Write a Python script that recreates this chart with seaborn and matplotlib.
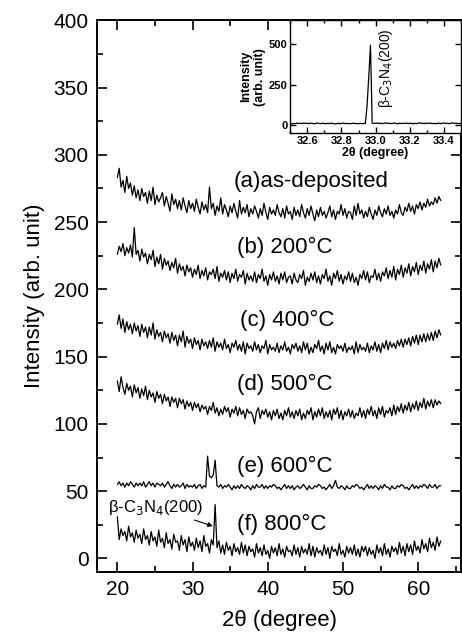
import numpy as np
import pandas as pd
import matplotlib
matplotlib.use("Agg")
import matplotlib.pyplot as plt
import seaborn as sns
from matplotlib.ticker import MultipleLocator

# scan grid, 20-63 deg in 0.25 deg steps
two_theta = np.arange(20.0, 63.001, 0.25)

as_deposited = [
    283, 290, 276, 281, 272, 284, 275, 279, 270, 277, 268, 274, 266, 275, 269, 272,
    264, 273, 266, 276, 263, 270, 265, 268, 272, 262, 269, 264, 258, 271, 263, 267,
    260, 266, 259, 268, 262, 257, 266, 260, 264, 258, 267, 261, 256, 265, 259, 263,
    257, 276, 260, 264, 255, 262, 258, 268, 256, 263, 259, 254, 262, 257, 264, 258,
    253, 266, 256, 261, 257, 263, 254, 260, 256, 262, 258, 253, 260, 255, 264, 257,
    252, 261, 256, 259, 255, 263, 257, 254, 260, 253, 262, 256, 258, 252, 261, 255,
    259, 254, 263, 257, 253, 260, 255, 262, 256, 251, 259, 254, 261, 255, 258, 253,
    257, 262, 254, 259, 252, 258, 256, 263, 255, 260, 253, 258, 257, 252, 262, 255,
    264, 256, 259, 253, 258, 254, 261, 256, 252, 259, 255, 262, 257, 254, 260, 256,
    262, 255, 258, 253, 259, 256, 263, 257, 255, 261, 258, 264, 258, 262, 256, 263,
    260, 265, 259, 264, 261, 267, 262, 265, 263, 268, 264, 269, 266,
]
t200 = [
    226, 232, 228, 234, 225, 231, 227, 233, 224, 246, 226, 229, 221, 230, 224, 227,
    219, 226, 222, 229, 217, 224, 219, 226, 215, 223, 218, 221, 214, 220, 216, 223,
    212, 219, 214, 217, 210, 218, 213, 216, 209, 215, 211, 218, 208, 214, 210, 216,
    207, 213, 211, 215, 208, 217, 206, 212, 209, 214, 207, 213, 205, 212, 208, 215,
    206, 211, 209, 214, 204, 212, 207, 210, 206, 213, 205, 211, 208, 215, 206, 210,
    203, 211, 207, 213, 206, 210, 204, 212, 207, 213, 205, 209, 210, 204, 212, 207,
    205, 211, 208, 214, 203, 209, 206, 212, 207, 213, 205, 210, 204, 211, 208, 215,
    206, 210, 203, 212, 208, 214, 206, 211, 204, 210, 207, 213, 206, 212, 205, 209,
    203, 211, 208, 214, 207, 213, 205, 210, 209, 215, 207, 212, 206, 213, 210, 216,
    208, 214, 209, 217, 207, 215, 211, 218, 209, 216, 212, 219, 210, 217, 213, 220,
    211, 218, 214, 221, 212, 219, 215, 222, 213, 221, 216, 223, 218,
]
t400 = [
    174, 181, 171, 178, 168, 176, 170, 174, 167, 175, 169, 173, 165, 174, 168, 172,
    164, 172, 166, 175, 163, 170, 165, 168, 161, 169, 164, 167, 160, 168, 162, 166,
    158, 166, 161, 169, 157, 165, 160, 163, 156, 164, 159, 162, 155, 163, 158, 161,
    156, 162, 157, 164, 154, 161, 157, 160, 155, 163, 156, 159, 153, 160, 157, 162,
    155, 159, 154, 161, 152, 160, 156, 158, 154, 161, 155, 159, 153, 158, 156, 162,
    152, 159, 155, 157, 154, 160, 153, 158, 155, 161, 154, 157, 152, 159, 156, 160,
    154, 158, 153, 161, 155, 160, 152, 157, 153, 159, 156, 162, 154, 158, 152, 160,
    155, 161, 153, 157, 152, 159, 156, 158, 154, 160, 153, 157, 155, 158, 152, 161,
    153, 159, 155, 157, 154, 160, 153, 158, 155, 161, 154, 159, 153, 160, 156, 162,
    155, 161, 157, 160, 156, 162, 158, 163, 157, 163, 159, 164, 158, 165, 160, 166,
    159, 166, 161, 167, 161, 167, 162, 168, 162, 169, 164, 170, 166,
]
t500 = [
    132, 124, 135, 127, 122, 130, 125, 128, 120, 129, 123, 127, 119, 126, 121, 128,
    118, 125, 120, 123, 116, 124, 119, 122, 115, 122, 117, 120, 113, 120, 116, 119,
    112, 119, 115, 118, 111, 117, 113, 116, 110, 116, 112, 115, 109, 114, 111, 113,
    107, 113, 110, 116, 108, 112, 106, 111, 107, 113, 109, 112, 105, 111, 108, 113,
    106, 112, 107, 110, 104, 111, 108, 109, 106, 100, 109, 112, 104, 110, 107, 111,
    105, 109, 103, 110, 106, 111, 104, 108, 103, 110, 106, 112, 105, 109, 104, 110,
    106, 111, 103, 108, 104, 110, 107, 112, 103, 109, 105, 111, 106, 112, 104, 109,
    105, 110, 103, 111, 107, 112, 104, 110, 103, 109, 106, 111, 105, 110, 104, 108,
    106, 112, 105, 110, 104, 111, 107, 113, 106, 110, 104, 112, 107, 113, 105, 110,
    108, 112, 106, 114, 107, 113, 109, 115, 108, 114, 110, 116, 109, 115, 111, 117,
    110, 116, 112, 119, 111, 117, 113, 118, 112, 118, 114, 117, 115,
]
t600 = [
    55, 57, 54, 56, 53, 56, 54, 57, 55, 53, 56, 54, 56, 54, 57, 53,
    55, 57, 54, 56, 53, 56, 55, 54, 56, 53, 55, 57, 54, 52, 55, 53,
    55, 53, 54, 56, 52, 55, 53, 54, 53, 55, 52, 54, 55, 52, 54, 53,
    76, 61, 60, 62, 73, 54, 53, 55, 52, 54, 53, 55, 53, 51, 54, 52,
    54, 52, 55, 53, 52, 54, 53, 51, 54, 52, 55, 53, 53, 55, 52, 54,
    52, 54, 53, 55, 54, 52, 53, 51, 53, 55, 52, 54, 52, 54, 51, 53,
    54, 52, 53, 55, 53, 51, 54, 52, 52, 54, 53, 55, 54, 52, 53, 51,
    53, 55, 52, 54, 58, 53, 52, 54, 53, 51, 54, 52, 52, 54, 53, 55,
    54, 52, 53, 51, 53, 55, 52, 54, 52, 54, 53, 51, 54, 52, 55, 53,
    53, 51, 54, 52, 52, 54, 53, 55, 54, 52, 53, 51, 53, 55, 52, 54,
    52, 54, 53, 55, 54, 52, 55, 53, 53, 55, 52, 54, 54,
]
t800 = [
    31, 14, 22, 17, 20, 13, 24, 16, 19, 12, 21, 15, 18, 11, 22, 14,
    17, 10, 20, 13, 16, 9, 21, 12, 15, 8, 19, 11, 14, 7, 18, 12,
    13, 6, 17, 10, 14, 5, 16, 9, 12, 6, 15, 8, 13, 5, 17, 9,
    11, 4, 14, 10, 40, 8, 13, 4, 10, 3, 12, 6, 9, 2, 11, 5,
    8, 3, 12, 4, 10, 2, 9, 5, 7, 1, 11, 4, 8, 2, 10, 3,
    6, 0, 9, 4, 8, 2, 11, 3, 7, 1, 9, 5, 6, 2, 10, 3,
    8, 1, 9, 4, 7, 3, 11, 2, 9, 1, 8, 4, 6, 2, 10, 3,
    8, 0, 9, 5, 7, 2, 11, 3, 6, 1, 9, 4, 8, 3, 10, 2,
    7, 1, 9, 5, 9, 2, 8, 3, 6, 0, 10, 4, 8, 2, 11, 3,
    7, 1, 9, 5, 8, 3, 12, 4, 9, 2, 11, 5, 10, 3, 13, 6,
    9, 4, 14, 7, 11, 5, 15, 8, 12, 6, 16, 9, 13,
]

series = [as_deposited, t200, t400, t500, t600, t800]
labels = ["(a)as-deposited", "(b) 200°C", "(c) 400°C", "(d) 500°C", "(e) 600°C", "(f) 800°C"]
label_x = [35.4, 35.9, 36.3, 35.9, 35.9, 35.9]
label_y = [280, 231, 177, 129, 68, 25]

# inset: zoom on the beta-C3N4 (200) reflection, 32.5-33.5 deg in 0.01 deg steps
inset_theta = np.arange(32.50, 33.5001, 0.01)
inset_counts = [
    4, 8, 10, 9, 12, 10, 11, 9, 13, 10,
    11, 9, 12, 10, 8, 11, 13, 10, 9, 12,
    10, 8, 11, 9, 12, 10, 7, 9, 11, 8,
    10, 12, 9, 11, 8, 10, 9, 12, 10, 8,
    9, 11, 8, 10, 10, 120, 300, 495, 12, 10,
    11, 13, 10, 12, 9, 11, 14, 10, 12, 9,
    11, 13, 10, 8, 12, 9, 11, 10, 13, 9,
    12, 10, 8, 11, 9, 12, 14, 10, 11, 9,
    12, 10, 13, 9, 11, 8, 10, 12, 9, 11,
    13, 10, 12, 9, 11, 14, 10, 12, 9, 11,
    10,
]

sns.set_style("ticks")
plt.rcParams["font.family"] = ["Liberation Sans", "DejaVu Sans"]
plt.rcParams.update({
    "text.color": "black",
    "axes.labelcolor": "black",
    "axes.edgecolor": "black",
    "xtick.color": "black",
    "ytick.color": "black",
})

fig = plt.figure(figsize=(4.62, 6.34), dpi=100)
ax = fig.add_axes([0.21, 0.098, 0.788, 0.870])

for vals in series:
    sns.lineplot(x=two_theta, y=vals, ax=ax, color="black", linewidth=0.9)

for txt, lx, ly in zip(labels, label_x, label_y):
    ax.text(lx, ly, txt, fontsize=16, va="center", ha="left")

ax.annotate("β-C$_3$N$_4$(200)", xy=(32.7, 24), xytext=(18.8, 38),
            fontsize=12, va="center", ha="left",
            arrowprops=dict(arrowstyle="-|>", color="black", lw=0.8,
                            shrinkA=0, shrinkB=0, mutation_scale=7))

ax.set_xlim(17.3, 65.7)
ax.set_ylim(-10, 400)
ax.xaxis.set_major_locator(MultipleLocator(10))
ax.xaxis.set_minor_locator(MultipleLocator(5))
ax.yaxis.set_major_locator(MultipleLocator(50))
ax.yaxis.set_minor_locator(MultipleLocator(25))
ax.tick_params(which="both", direction="in", top=True, right=True, labelsize=15, width=1.2)
ax.tick_params(which="major", length=7, pad=6)
ax.tick_params(which="minor", length=4)
for sp in ax.spines.values():
    sp.set_linewidth(1.4)
ax.set_xlabel("2θ (degree)", fontsize=16, labelpad=8)
ax.set_ylabel("Intensity (arb. unit)", fontsize=16, labelpad=6)

# inset
axi = fig.add_axes([0.628, 0.790, 0.370, 0.178])
sns.lineplot(x=inset_theta, y=inset_counts, ax=axi, color="black", linewidth=0.9)
axi.text(33.06, 350, "β-C$_3$N$_4$(200)", rotation=90, fontsize=10,
         ha="center", va="center")
axi.set_xlim(32.5, 33.5)
axi.set_ylim(-50, 650)
axi.xaxis.set_minor_locator(MultipleLocator(0.1))
axi.set_xticks([32.6, 32.8, 33.0, 33.2, 33.4])
axi.set_yticks([0, 250, 500])
axi.tick_params(which="both", direction="in", top=True, right=True, labelsize=8, width=1.0, pad=2)
axi.tick_params(which="major", length=4)
axi.tick_params(which="minor", length=2)
for lab in axi.get_xticklabels() + axi.get_yticklabels():
    lab.set_fontweight("bold")
for sp in axi.spines.values():
    sp.set_linewidth(1.0)
axi.set_xlabel("2θ (degree)", fontsize=9, fontweight="bold", labelpad=1)
axi.set_ylabel("Intensity\n(arb. unit)", fontsize=9, fontweight="bold", labelpad=2)

fig.savefig("out.png", dpi=100)
